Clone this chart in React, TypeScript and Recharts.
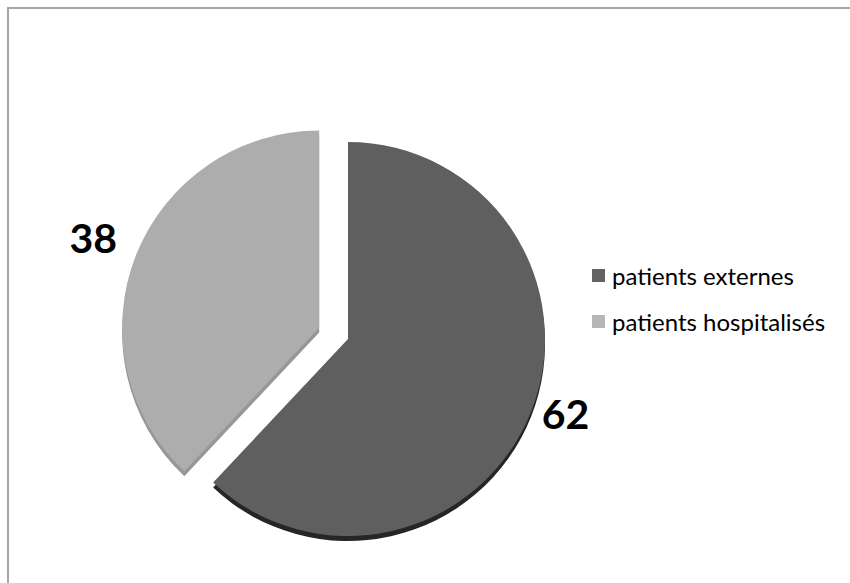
import React from 'react';
import { PieChart, Pie, Cell } from 'recharts';

const categories = ['patients externes', 'patients hospitalisés'];
const values = [62, 38];
const sliceColors = ['#5f5f5f', '#adadad'];
const edgeColors = ['#262626', '#979797'];
const legendColors = ['#636363', '#b6b6b6'];

const data = categories.map((name, i) => ({ name, value: values[i] }));

const CX = 343;
const CY = 334;
const R = 197;
const EXPLODE = 31;
const DEPTH = 5;
const RAD = Math.PI / 180;
const FONT = "Lato, 'Open Sans', sans-serif";

// offset of the pulled-out slice, along its mid angle
const total = values.reduce((a, b) => a + b, 0);
const midLight = 90 - (360 * (values[0] + values[1] / 2)) / total;
const dx = EXPLODE * Math.cos(midLight * RAD);
const dy = -EXPLODE * Math.sin(midLight * RAD);

const makeLabel = (only: number, gap: number, nudgeY: number) => (props: any) => {
  const { cx, cy, midAngle, outerRadius, index, value } = props;
  if (index !== only) return null;
  const r = outerRadius + gap;
  const x = cx + r * Math.cos(-midAngle * RAD);
  const y = cy + r * Math.sin(-midAngle * RAD) + nudgeY;
  return (
    <text
      x={x}
      y={y}
      textAnchor="middle"
      dominantBaseline="central"
      fill="#000"
      fontFamily={FONT}
      fontWeight={700}
      fontSize={41}
    >
      {value}
    </text>
  );
};

const fillsFor = (only: number, colors: string[]) =>
  data.map((_, i) => (i === only ? colors[i] : 'none'));

const App = () => {
  return (
    <div style={{ position: 'absolute', left: 0, top: 0, width: 850, height: 583, background: '#fff', overflow: 'hidden' }}>
      <div style={{ position: 'absolute', left: 7, top: 7, width: 843, height: 2, background: '#a6a6a6' }} />
      <div style={{ position: 'absolute', left: 7, top: 7, width: 2, height: 576, background: '#a6a6a6' }} />
      <div style={{ position: 'absolute', left: 0, top: 0 }}>
        <PieChart width={850} height={583}>
          {/* side walls */}
          <Pie
            data={data}
            dataKey="value"
            cx={CX}
            cy={CY + DEPTH}
            outerRadius={R}
            startAngle={90}
            endAngle={-270}
            stroke="none"
            isAnimationActive={false}
          >
            {fillsFor(0, edgeColors).map((c, i) => (
              <Cell key={`e0-${i}`} fill={c} />
            ))}
          </Pie>
          <Pie
            data={data}
            dataKey="value"
            cx={CX + dx}
            cy={CY + dy + DEPTH}
            outerRadius={R}
            startAngle={90}
            endAngle={-270}
            stroke="none"
            isAnimationActive={false}
          >
            {fillsFor(1, edgeColors).map((c, i) => (
              <Cell key={`e1-${i}`} fill={c} />
            ))}
          </Pie>
          {/* tops */}
          <Pie
            data={data}
            dataKey="value"
            cx={CX}
            cy={CY}
            outerRadius={R}
            startAngle={90}
            endAngle={-270}
            stroke="none"
            labelLine={false}
            label={makeLabel(0, 37, -12)}
            isAnimationActive={false}
          >
            {fillsFor(0, sliceColors).map((c, i) => (
              <Cell key={`s0-${i}`} fill={c} />
            ))}
          </Pie>
          <Pie
            data={data}
            dataKey="value"
            cx={CX + dx}
            cy={CY + dy}
            outerRadius={R}
            startAngle={90}
            endAngle={-270}
            stroke="none"
            labelLine={false}
            label={makeLabel(1, 46, -1)}
            isAnimationActive={false}
          >
            {fillsFor(1, sliceColors).map((c, i) => (
              <Cell key={`s1-${i}`} fill={c} />
            ))}
          </Pie>
        </PieChart>
      </div>
      <div style={{ position: 'absolute', left: 592, top: 259, fontFamily: FONT, fontSize: 24, color: '#000' }}>
        {categories.map((name, i) => (
          <div key={name} style={{ display: 'flex', alignItems: 'center', height: 32, marginBottom: i === 0 ? 14 : 0 }}>
            <span style={{ display: 'inline-block', width: 13, height: 13, background: legendColors[i], marginRight: 7 }} />
            <span>{name}</span>
          </div>
        ))}
      </div>
    </div>
  );
};

export default App;
